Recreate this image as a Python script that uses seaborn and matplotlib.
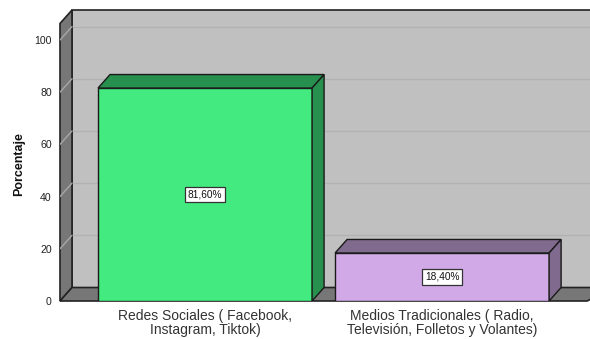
import matplotlib
matplotlib.use("Agg")
import matplotlib.pyplot as plt
from matplotlib.patches import Polygon, Rectangle
import seaborn as sns
import pandas as pd

categories = ["Redes Sociales ( Facebook,\nInstagram, Tiktok)",
              "Medios Tradicionales ( Radio,\nTelevisión, Folletos y Volantes)"]
values = [81.6, 18.4]
value_labels = ["81,60%", "18,40%"]
yticks = [0, 20, 40, 60, 80, 100]

front_colors = ["#42EA7F", "#D1A9E6"]
dark_colors = ["#27904F", "#806A8D"]

sns.set_theme(style="white")
plt.rcParams['font.family'] = ['Liberation Sans', 'DejaVu Sans']

fig = plt.figure(figsize=(5.9, 3.39), dpi=100)
ax = fig.add_axes([60/590, 38/339, 530/590, 291/339])

xl, xr = -0.612, 1.624
ytop = 111.5
dx = 12/237
dy = 13.5/2.61

df = pd.DataFrame({"cat": categories, "val": values})
sns.barplot(data=df, x="cat", y="val", hue="cat", palette=front_colors,
            width=0.903, edgecolor="#1a1a1a", linewidth=1.0, saturation=1,
            legend=False, ax=ax, zorder=2)
bars = sorted([p for p in ax.patches if isinstance(p, Rectangle)], key=lambda p: p.get_x())
ax.set_xlim(xl, xr)
ax.set_ylim(0, ytop)

wall = "#C0C0C0"
side = "#777777"
# back wall
ax.add_patch(Polygon([(xl+dx, dy), (xl+dx, ytop), (xr+0.1, ytop), (xr+0.1, dy)],
                     closed=True, facecolor=wall, edgecolor="#222222", lw=1.2,
                     zorder=0, clip_on=False))
# left side wall
ax.add_patch(Polygon([(xl, 0), (xl, ytop-dy), (xl+dx, ytop), (xl+dx, dy)],
                     closed=True, facecolor=side, edgecolor="#222222", lw=1.2,
                     zorder=0.5, clip_on=False))
# floor
ax.add_patch(Polygon([(xl, 0), (xl+dx, dy), (xr+0.1, dy), (1.612, 0)],
                     closed=True, facecolor=side, edgecolor="#222222", lw=1.2,
                     zorder=0.5, clip_on=False))
# grid lines
for v in yticks[1:]:
    ax.plot([xl+dx, xr], [v+dy, v+dy], color="#B2B2B2", lw=1, zorder=0.3)
    ax.plot([xl, xl+dx], [v, v+dy], color="#A8A8A8", lw=1, zorder=0.6)

for i, p in enumerate(bars):
    x0 = p.get_x(); x1 = x0 + p.get_width(); h = p.get_height()
    ax.add_patch(Polygon([(x0, h), (x0+dx, h+dy), (x1+dx, h+dy), (x1, h)],
                         closed=True, facecolor=dark_colors[i], edgecolor="#1a1a1a",
                         lw=1.0, zorder=2.1))
    ax.add_patch(Polygon([(x1, 0), (x1, h), (x1+dx, h+dy), (x1+dx, dy)],
                         closed=True, facecolor=dark_colors[i], edgecolor="#1a1a1a",
                         lw=1.0, zorder=2.1))
    ax.text(x0 + p.get_width()/2, h/2, value_labels[i], ha="center", va="center",
            fontsize=7.3, color="#111111", zorder=5,
            bbox=dict(boxstyle="square,pad=0.25", facecolor="white",
                      edgecolor="#333333", lw=0.9))

for s in ax.spines.values():
    s.set_visible(False)
ax.set_facecolor("none")
ax.set_yticks(yticks)
ax.set_yticklabels([str(t) for t in yticks], fontsize=7.6, color="#222222")
ax.tick_params(axis="y", length=0, pad=6)
ax.tick_params(axis="x", length=0, pad=6)
ax.set_xticks(range(len(categories)))
ax.set_xticklabels(categories, fontsize=10, color="#333333", linespacing=1.0)
ax.set_xlabel("")
ax.set_ylabel("Porcentaje", fontsize=9, fontweight="bold", color="#111111")
ax.yaxis.set_label_coords(-0.066, 0.47)

fig.savefig("out.png", dpi=100)
